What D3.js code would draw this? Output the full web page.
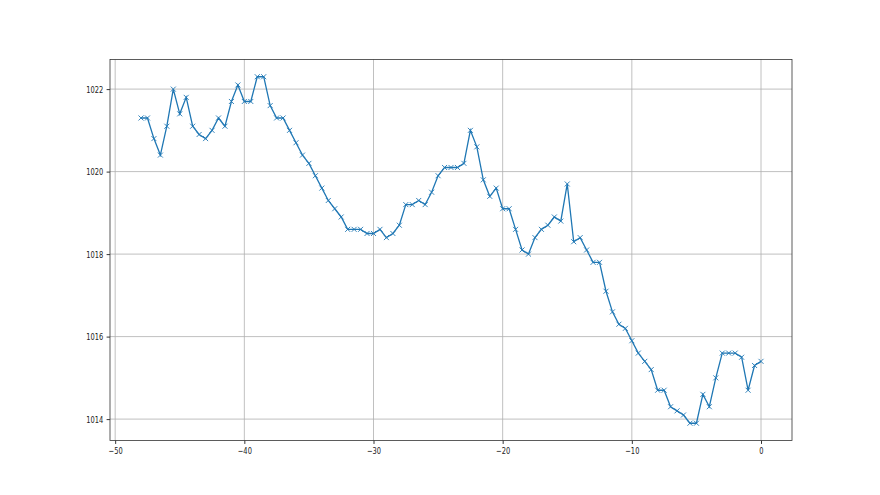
<!DOCTYPE html>
<html><head><meta charset="utf-8">
<script src="https://cdn.jsdelivr.net/npm/d3@7"></script>
<style>body{margin:0;background:#fff}svg{display:block}text{font-family:"DejaVu Sans",sans-serif}</style>
</head><body><div id="chart"></div>
<script>
const hours = d3.range(-48, 0.001, 0.5);
const pressure = [
1021.3,1021.3,1020.8,1020.4,1021.1,1022.0,1021.4,1021.8,1021.1,1020.9,
1020.8,1021.0,1021.3,1021.1,1021.7,1022.1,1021.7,1021.7,1022.3,1022.3,
1021.6,1021.3,1021.3,1021.0,1020.7,1020.4,1020.2,1019.9,1019.6,1019.3,
1019.1,1018.9,1018.6,1018.6,1018.6,1018.5,1018.5,1018.6,1018.4,1018.5,
1018.7,1019.2,1019.2,1019.3,1019.2,1019.5,1019.9,1020.1,1020.1,1020.1,
1020.2,1021.0,1020.6,1019.8,1019.4,1019.6,1019.1,1019.1,1018.6,1018.1,
1018.0,1018.4,1018.6,1018.7,1018.9,1018.8,1019.7,1018.3,1018.4,1018.1,
1017.8,1017.8,1017.1,1016.6,1016.3,1016.2,1015.9,1015.6,1015.4,1015.2,
1014.7,1014.7,1014.3,1014.2,1014.1,1013.9,1013.9,1014.6,1014.3,1015.0,
1015.6,1015.6,1015.6,1015.5,1014.7,1015.3,1015.4];
const xTicks = [-50,-40,-30,-20,-10,0];
const yTicks = [1014,1016,1018,1020,1022];

const W=880,H=495;
const L=110,R=792,T=59.4,B=440.55;
const svg=d3.select("#chart").append("svg").attr("width",W).attr("height",H);
const xmin=d3.min(hours),xmax=d3.max(hours),xm=(xmax-xmin)*0.05;
const ymin=d3.min(pressure),ymax=d3.max(pressure),ym=(ymax-ymin)*0.05;
const x=d3.scaleLinear().domain([xmin-xm,xmax+xm]).range([L,R]);
const y=d3.scaleLinear().domain([ymin-ym,ymax+ym]).range([B,T]);

// grid
svg.append("g").selectAll("line").data(xTicks).join("line")
 .attr("x1",d=>x(d)).attr("x2",d=>x(d)).attr("y1",T).attr("y2",B)
 .attr("stroke","#b0b0b0").attr("stroke-width",0.8);
svg.append("g").selectAll("line").data(yTicks).join("line")
 .attr("y1",d=>y(d)).attr("y2",d=>y(d)).attr("x1",L).attr("x2",R)
 .attr("stroke","#b0b0b0").attr("stroke-width",0.8);

const sx=0.72;
const xa=svg.append("g").attr("transform",`translate(0,${B})`)
 .call(d3.axisBottom(x).tickValues(xTicks).tickSize(3.4).tickPadding(3.4).tickFormat(d=>d<0?"\u2212"+Math.abs(d):String(d)));
const ya=svg.append("g").attr("transform",`translate(${L},0)`)
 .call(d3.axisLeft(y).tickValues(yTicks).tickSize(3.4).tickPadding(3.4).tickFormat(d3.format("d")));
[xa,ya].forEach(a=>{a.select(".domain").remove();a.selectAll("line").attr("stroke","#000").attr("stroke-width",0.8);
 a.selectAll("text").attr("font-size",9.3).attr("fill","#222").style("font-family","DejaVu Sans");});
ya.selectAll("text").attr("x",-6.8/sx).attr("transform",`scale(${sx},1)`);
xa.selectAll("text").attr("transform",`scale(${sx},1)`);

const data=hours.map((h,i)=>[h,pressure[i]]);
svg.append("path").datum(data).attr("fill","none").attr("stroke","#1f77b4").attr("stroke-width",1.3)
 .attr("d",d3.line().x(d=>x(d[0])).y(d=>y(d[1])));
const s=2.5;
svg.append("g").selectAll("path").data(data).join("path")
 .attr("d",d=>{const cx=x(d[0]),cy=y(d[1]);return `M${cx-s},${cy-s}L${cx+s},${cy+s}M${cx-s},${cy+s}L${cx+s},${cy-s}`;})
 .attr("stroke","#1f77b4").attr("stroke-width",0.9).attr("fill","none");

svg.append("rect").attr("x",L).attr("y",T).attr("width",R-L).attr("height",B-T)
 .attr("fill","none").attr("stroke","#333").attr("stroke-width",0.8);
</script></body></html>
